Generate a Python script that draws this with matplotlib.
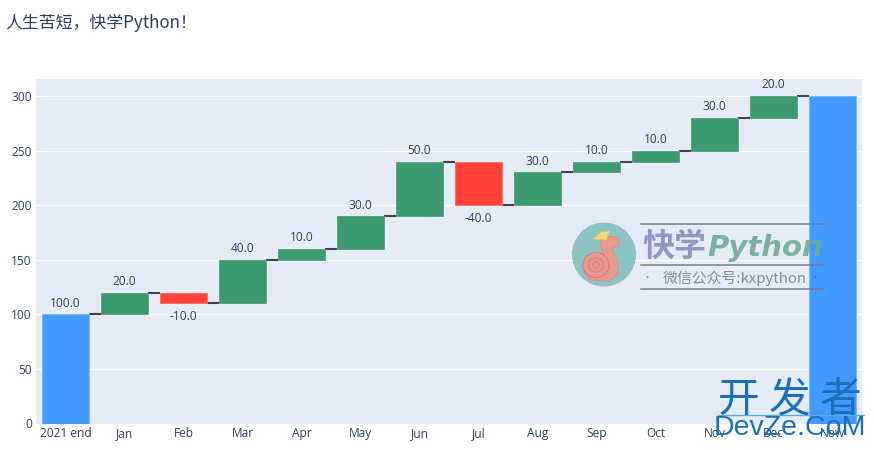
import matplotlib
matplotlib.use("Agg")
import matplotlib.pyplot as plt
from matplotlib.patches import Circle, Ellipse, Polygon
from matplotlib.lines import Line2D

plt.rcParams['font.family'] = ['Open Sans', 'Noto Sans CJK SC', 'DejaVu Sans']

categories = ["2021 end", "Jan", "Feb", "Mar", "Apr", "May", "Jun", "Jul", "Aug", "Sep", "Oct", "Nov", "Dec", "Now"]
changes = [100, 20, -10, 40, 10, 30, 50, -40, 30, 10, 10, 30, 20]
y_ticks = [0, 50, 100, 150, 200, 250, 300]
title_text = "人生苦短\uff0c快学Python\uff01"

W, H = 874, 450
TEXT = "#2a3f5f"
BLUE, GREEN, RED = "#4299ff", "#3d9970", "#ff4136"
EDGE = {BLUE: "#7db6fa", GREEN: "#5aa585", RED: "#ff7268"}

fig = plt.figure(figsize=(W / 100, H / 100), dpi=100, facecolor="white")
ax = fig.add_axes([36 / W, 1 - 423.5 / H, 826 / W, 344.5 / H], facecolor="#e5ecf6")
ax.set_xlim(-0.5, len(categories) - 0.5)
ax.set_ylim(0, 315.6)
for s in ax.spines.values():
    s.set_visible(False)
ax.set_axisbelow(True)
ax.yaxis.grid(True, color="white", lw=1)
ax.set_yticks(y_ticks)
ax.set_xticks(range(len(categories)))
ax.set_xticklabels(categories)
ax.tick_params(length=0, labelsize=8.6, labelcolor=TEXT)
ax.tick_params(axis="y", pad=3)
ax.tick_params(axis="x", pad=2.5)

bw = 0.8
levels = []
run = 0
for i, v in enumerate(changes):
    start = run
    run += v
    levels.append(run)
    if i == 0:
        bottom, height, color = 0, v, BLUE
    else:
        bottom, height, color = min(start, run), abs(v), GREEN if v > 0 else RED
    ax.bar(i, height, bottom=bottom, width=bw, color=color, edgecolor=EDGE[color], lw=0.7, zorder=3)
    if v >= 0:
        ax.annotate(f"{v:.1f}", (i, bottom + height), xytext=(0, 3.3), textcoords="offset points",
                    ha="center", va="bottom", fontsize=8.6, color=TEXT, zorder=6)
    else:
        ax.annotate(f"{v:.1f}", (i, bottom), xytext=(0, -5), textcoords="offset points",
                    ha="center", va="top", fontsize=8.6, color=TEXT, zorder=6)
ax.bar(len(changes), run, width=bw, color=BLUE, edgecolor=EDGE[BLUE], lw=0.7, zorder=3)
for i, lv in enumerate(levels):
    ax.plot([i + bw / 2, i + 1 - bw / 2], [lv, lv], color="#444444", lw=1.5, zorder=2.5, solid_capstyle="butt")

fig.text(5 / W, 1 - 23 / H, title_text, fontsize=12.2, color=TEXT, va="center", ha="left",
         family=['Noto Sans CJK SC', 'DejaVu Sans'])

# Watermark logo, placed in pixel coordinates over the figure
ov = fig.add_axes([0, 0, 1, 1], facecolor="none", zorder=10)
ov.set_xlim(0, W)
ov.set_ylim(H, 0)
ov.axis("off")
ov.add_patch(Circle((604, 254.5), 31.5, fc="#8ac5c4", ec="#9ab4bc", lw=0.6))
ov.add_patch(Polygon([(584, 272), (590, 280), (610, 281), (618, 274), (618, 262), (612, 248), (619, 246),
                      (619, 238), (610, 236), (602, 238), (600, 243), (604, 255), (605, 268), (600, 270)],
                     fc="#e8988c", ec="#d98a80", lw=0.6))
ov.add_patch(Ellipse((596, 265), 26, 25, fc="#e8988c", ec="#cf7f76", lw=0.8))
ov.add_patch(Ellipse((596, 265), 15, 14, fc="none", ec="#cf7f76", lw=0.7))
ov.add_patch(Ellipse((596, 265), 6, 6, fc="none", ec="#cf7f76", lw=0.7))
ov.add_patch(Polygon([(593, 239), (601, 232), (610, 231), (606, 240)], fc="#efd77c", ec="#d9c36a", lw=0.5))
for y in (224, 265, 288.5):
    ov.add_line(Line2D([641, 822.5], [y, y], color="#6e7486", lw=1.1, alpha=0.9))
ov.text(642, 247, "快学", fontsize=23, fontweight="bold", style="italic", color="#8e92c4",
        family=['Noto Sans CJK SC'], va="center", ha="left", alpha=0.95)
ov.text(707, 248, "Python", fontsize=21, fontweight="bold", style="italic", color="#72aa96",
        family=['DejaVu Sans'], va="center", ha="left", alpha=0.9)
ov.text(647, 278, "•", fontsize=6, color="#6e7486", va="center", ha="center")
ov.text(815, 278, "•", fontsize=6, color="#5a6a80", va="center", ha="center")
ov.text(663, 278, "微信公众号:kxpython", fontsize=10.7, color="#868c9c", va="center", ha="left",
        family=['Noto Sans CJK SC', 'DejaVu Sans'])
ov.text(790, 400, "开 发 者", fontsize=30, color="#1a70b8", va="center", ha="center",
        family=['Noto Sans CJK SC'])
ov.add_line(Line2D([718, 864], [415, 415], color="#58aee0", lw=1))
ov.text(790, 428, "DevZe.CoM", fontsize=20.5, color="#1a70b8", va="center", ha="center",
        family=['Liberation Sans'])

fig.savefig("out.png", dpi=100)
